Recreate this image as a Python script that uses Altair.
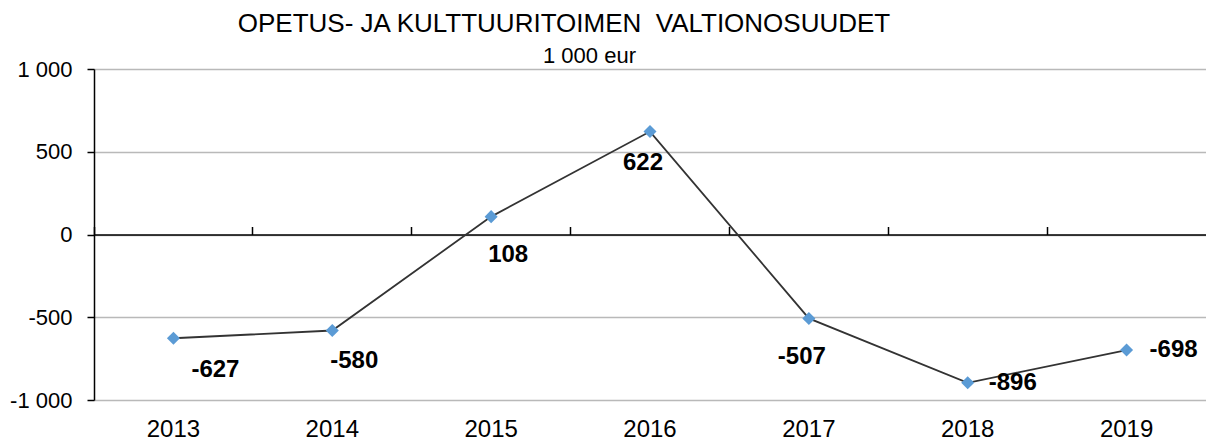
import altair as alt
import pandas as pd

# ---- data ----
years = ["2013", "2014", "2015", "2016", "2017", "2018", "2019"]
values = [-627, -580, 108, 622, -507, -896, -698]
value_labels = ["-627", "-580", "108", "622", "-507", "-896", "-698"]
y_ticks = [-1000, -500, 0, 500, 1000]
y_tick_labels = ["-1 000", "-500", "0", "500", "1 000"]

title_text = "OPETUS- JA KULTTUURITOIMEN\u00a0 VALTIONOSUUDET"
subtitle_text = "1 000 eur"

# ---- styling (label offsets in pixels, per year) ----
label_offsets = {
    "2013": (42, 32),
    "2014": (22, 31),
    "2015": (17, 38),
    "2016": (-7, 31),
    "2017": (-7, 39),
    "2018": (45, 0),
    "2019": (47, 0),
}

FONT = "Liberation Sans"
PAD_L, PAD_T, PAD_B = 86, 61, 40
PLOT_W, PLOT_H = 1112, 331

df = pd.DataFrame({"year": years, "value": values, "label": value_labels})

label_expr = " : ".join(
    f"datum.value == {v} ? '{t}'" for v, t in zip(y_ticks, y_tick_labels)
) + " : ''"

xscale = alt.Scale(type="band", paddingInner=0, paddingOuter=0, domain=years)
yscale = alt.Scale(domain=[-1000, 1000], nice=False, zero=False)

y_axis = alt.Axis(
    values=y_ticks, labelExpr=label_expr,
    title=subtitle_text, titleAngle=0, titleX=495, titleY=-24,
    titleAlign="center", titleBaseline="top", titleFont=FONT,
    titleFontSize=22, titleFontWeight="normal", titleColor="black",
    grid=True, gridColor="#b9b9b9", gridWidth=1.5,
    domainColor="black", domainWidth=1.5,
    tickColor="black", tickWidth=1.5, tickSize=7,
    labelPadding=15, labelFontSize=22, labelFont=FONT, labelColor="black",
)

zero_axis = alt.Axis(
    orient="top", offset=-PLOT_H / 2, labels=False, title=None, grid=False,
    domainColor="black", domainWidth=1.5, tickColor="black", tickWidth=1.5,
    tickSize=8, bandPosition=0,
)

bottom_axis = alt.Axis(
    orient="bottom", domain=False, ticks=False, tickSize=0, grid=False,
    labelAngle=0, labelFontSize=24, labelFont=FONT, labelColor="black",
    labelPadding=17, title=None,
)

base = alt.Chart(df)

line = base.mark_line(color="#333333", strokeWidth=1.8).encode(
    x=alt.X("year:N", scale=xscale, axis=zero_axis, sort=years),
    y=alt.Y("value:Q", scale=yscale, axis=y_axis),
)

points = base.mark_point(shape="diamond", filled=True, size=170,
                         color="#5B9BD5", opacity=1).encode(
    x=alt.X("year:N", scale=xscale, axis=bottom_axis, sort=years),
    y=alt.Y("value:Q", scale=yscale, axis=y_axis),
)

texts = []
for yr in years:
    dx, dy = label_offsets[yr]
    texts.append(
        base.transform_filter(alt.datum.year == yr)
        .mark_text(font=FONT, fontSize=24, fontWeight="bold", color="black",
                   align="center", baseline="middle", dx=dx, dy=dy)
        .encode(
            x=alt.X("year:N", scale=xscale, axis=None, sort=years),
            y=alt.Y("value:Q", scale=yscale, axis=y_axis),
            text="label:N",
        )
    )

chart = (
    alt.layer(line, points, *texts)
    .resolve_axis(x="independent")
    .properties(
        width=PLOT_W, height=PLOT_H,
        autosize=alt.AutoSizeParams(type="none"),
        padding={"left": PAD_L, "top": PAD_T, "right": 0, "bottom": PAD_B},
        title=alt.TitleParams(
            text=title_text,
            font=FONT, fontSize=26, fontWeight="normal", color="black",
            anchor="middle", dx=-86, offset=7,
        ),
    )
    .configure_view(stroke=None)
    .configure(background="white")
)

chart.save("out.html", embed_options={"renderer": "svg", "actions": False})
